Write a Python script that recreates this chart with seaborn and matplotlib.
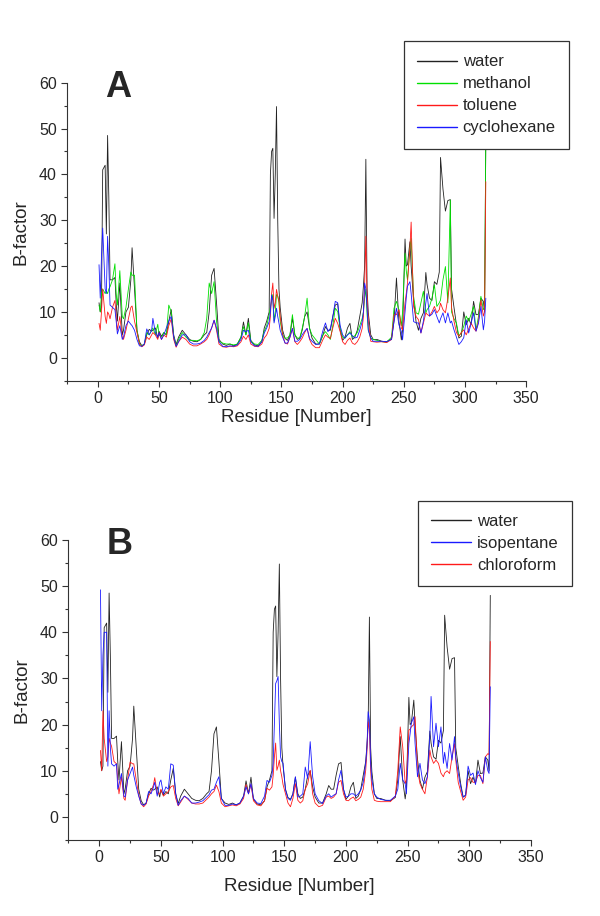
import matplotlib
matplotlib.use("Agg")
import matplotlib.pyplot as plt
from matplotlib.ticker import MultipleLocator
import seaborn as sns

# Residue numbers (x values shared by all series)
residue = [
    1, 2, 3, 4, 6, 7, 8, 9, 10, 12, 14, 15, 16, 18, 20, 21, 23, 25, 27, 28, 30, 32, 34, 36,
    38, 40, 42, 44, 45, 47, 49, 50, 52, 54, 56, 58, 60, 62, 64, 66, 69, 72, 75, 78, 81, 84, 87,
    89, 91, 93, 95, 97, 99, 102, 105, 108, 111, 114, 117, 119, 121, 123, 125, 128, 131, 134,
    136, 138, 140, 141, 142, 143, 144, 145, 146, 147, 148, 149, 151, 153, 155, 157, 159, 161,
    163, 165, 167, 169, 171, 173, 175, 178,
    181, 184, 186, 188, 190, 192, 194, 196, 198, 200, 202, 204, 206, 208, 210, 212, 214, 216,
    217, 218, 219, 220, 221, 223, 225, 228, 232, 236, 240,
    242, 244, 246, 248, 249, 251, 252, 253, 255, 256, 258, 260, 262, 264, 266, 268, 269, 271,
    273, 275, 277, 279, 280, 282, 284, 286, 288, 289, 291, 293, 295, 297, 299, 301, 303, 305,
    307, 309, 311, 313, 315, 316, 317,
]

# B-factors per solvent
water = [
    12, 10, 11, 41, 42, 27, 48.5, 35, 17, 17, 17.5, 12, 8, 16.3, 5, 6, 10, 11, 17, 24, 15, 6, 3.5, 2.6,
    3, 5, 6.2, 5.8, 6, 6.5, 4.3, 5.8, 4.7, 5.5, 5, 8, 10.5, 5, 2.9, 4.5, 6, 5, 4, 3.6, 3.5, 4, 5,
    5.5, 10, 18, 19.5, 12, 4, 3, 2.7, 3, 2.6, 3, 4.5, 7.8, 5, 8.6, 3.8, 2.8, 2.6, 3.5,
    6.5, 8, 10, 40, 45, 45.7, 30.4, 40, 54.8, 30, 15, 11, 6, 4.2, 3.8, 5, 8.6, 5,
    4, 4.3, 6, 9, 10, 6.5, 4.3, 3,
    3, 5, 6.8, 6, 6, 9, 11.5, 11.8, 6, 3.8, 4.5, 6.5, 7.5, 4, 4.5, 6, 9, 12,
    15.6, 20, 43.3, 15, 9.8, 5, 4, 4, 3.6, 3.5, 4.2,
    8, 17.4, 8, 3.9, 6, 25.9, 20, 20.3, 25.3, 20, 12.5, 7.9, 6, 8.6, 9.8, 18.6, 16, 13,
    12.5, 16.6, 16, 18.7, 43.7, 36.8, 32, 34.3, 34.5, 15, 11, 7.2, 4.3, 4.7, 10, 7.2, 8.6, 7.2,
    12.3, 9.4, 9.5, 13, 12.3, 10, 48,
]
methanol = [
    11.5, 10, 14, 15, 14, 14.5, 14, 15, 15.5, 17, 20.5, 14, 11.5, 19, 9, 8.5, 11, 15, 18.7, 18, 18, 6, 3, 2.6,
    3, 5.5, 5, 6, 6.5, 5, 7.3, 5, 4.5, 5.5, 5, 11.5, 10, 4.5, 2.6, 4, 5.5, 4.5, 3.8, 3.8, 3.7, 4, 5.5,
    8.6, 16.3, 14, 16.6, 8, 3.6, 3.2, 3, 3, 2.8, 3, 4.5, 6.8, 5, 7.6, 3.6, 3, 2.9, 3.8,
    5.8, 7, 9.4, 11, 12.5, 13.8, 8, 10, 13.8, 13.4, 12, 8, 5, 4.3, 4.3, 5, 9.4, 5,
    4.3, 4.3, 6.4, 9, 13, 6.4, 5, 4,
    3, 5, 5.7, 5, 4, 7, 10.8, 10.1, 6.4, 4.5, 4.3, 5, 5.7, 4.5, 4.8, 5.5, 7, 8.6,
    10, 13, 15, 9.4, 6, 4.3, 4, 3.8, 3.5, 3.4, 4.5,
    10.8, 12.3, 10.5, 7, 10, 22.8, 19, 17, 24, 26, 13.4, 9.8, 9.5, 12, 14.5, 9.8, 10.5, 11.2,
    13, 15.9, 11.2, 12, 12.6, 17, 19.9, 12, 34.4, 10, 8.5, 7.6, 4.7, 5.5, 6.9, 9.1, 8, 9.5,
    11.2, 6.1, 9, 13.4, 10.5, 11, 48,
]
toluene = [
    7.5, 6, 10, 15, 9, 7.5, 10, 9.5, 8.5, 11, 12.5, 9, 6, 9, 4.5, 4, 6, 8.5, 11, 11.3, 8, 5.5, 3, 2.4,
    2.8, 4.5, 4, 5, 5.5, 5, 4, 5.5, 4, 5, 4.5, 7, 8.5, 4, 2.3, 3.5, 4.5, 4, 3, 2.6, 2.6, 3, 3.5,
    4, 5, 6.5, 8.2, 6, 3, 2.4, 2.3, 2.5, 2.4, 2.6, 3.5, 4.7, 4, 5, 3, 2.5, 2.4, 3,
    4.3, 5, 6.4, 9, 14, 16.3, 10.8, 12, 14.9, 13.5, 12.4, 9, 5, 3.2, 3, 4.5, 6.4, 3.5,
    2.9, 3.5, 4.3, 5.5, 6.4, 4, 2.9, 2.2,
    2.2, 4, 5, 4.5, 4.2, 6.5, 8.6, 7.5, 5.7, 3.5, 2.9, 3.8, 4.3, 3.2, 2.9, 3.5, 4.5, 6.4,
    9, 16, 26.5, 13, 8, 3.6, 3.5, 3.4, 3.5, 3.3, 4,
    9.4, 9.4, 10.5, 6.5, 6.1, 12, 14, 16.3, 24, 29.6, 11.2, 9, 8.3, 5.4, 7.5, 9.8, 9.5, 9.1,
    10, 11.2, 9.8, 10.5, 11.9, 10.5, 9.8, 13, 17.4, 11, 8, 5.5, 4.7, 5.5, 6.1, 5, 6.3, 7.6,
    6.5, 5.8, 8, 12.6, 9.1, 10, 38.4,
]
cyclohexane = [
    20.3, 13, 22, 28.3, 15, 14, 26.5, 20, 11.5, 11, 10.5, 8, 5.2, 7, 4, 4.5, 7, 8, 7.3, 7, 6, 4, 2.6, 2.5,
    3, 6.3, 5, 6, 8.6, 5.5, 4.5, 5.5, 4, 5, 6.5, 8, 9, 4.5, 2.5, 3.5, 5, 5, 3.5, 3, 3, 3.2, 3.8,
    4.5, 5.5, 6.5, 8.2, 6.5, 3.5, 2.5, 2.4, 2.6, 2.5, 2.8, 4, 6, 5.7, 6, 3.5, 2.6, 2.5, 3.5,
    5.4, 6.5, 7.9, 10, 13.7, 12.5, 7.6, 9, 10.8, 9, 7.6, 6, 4.5, 3.2, 3.2, 4.5, 6.4, 3.6,
    3.6, 4, 5, 5.8, 6.4, 4.2, 3.6, 2.9,
    3, 6, 7.6, 5.7, 6.4, 9, 12.3, 12, 7, 5, 4.3, 5, 5.4, 4.8, 4.3, 4.5, 6, 7.9,
    10, 16.3, 15, 10.8, 6, 4.3, 3.6, 3.6, 3.6, 3.5, 4,
    7.9, 10.8, 7.2, 5.7, 3.9, 10, 13, 15.6, 16.6, 14, 7.9, 7.6, 7.6, 5.4, 8, 12, 14, 9.1,
    9.5, 10.5, 9, 7.6, 8.5, 9.8, 7.6, 9.8, 7.6, 8, 6.1, 4.5, 2.9, 3.5, 4.4, 8.3, 5.4, 7.5,
    9.8, 5.8, 7.5, 11.2, 6.1, 8, 13,
]
isopentane = [
    49.2, 23, 35, 40, 40, 11, 23, 15, 11.5, 11, 11.5, 6, 7, 9.4, 4.5, 4.3, 8, 9.4, 10.8, 9, 6.5, 4.5, 2.8, 2.5,
    3, 5.5, 5, 6.5, 7.5, 4.5, 7.5, 8, 5, 6.5, 6, 11.5, 11.2, 5, 2.5, 3.5, 4.5, 4, 3, 3, 3.2, 3.5, 4.3,
    4.8, 5.8, 6, 7.5, 8.7, 4, 2.5, 2.5, 2.8, 2.6, 3, 4.5, 6.5, 5, 7.2, 4, 3, 2.9, 4.5,
    7.9, 7.5, 9, 11.6, 20, 28.9, 29.5, 30.4, 20.3, 13, 12, 11.6, 5.8, 4, 3.6, 5, 8.7, 4.3,
    4.5, 5, 10.8, 8.3, 16.3, 8.7, 5, 3.5,
    2.9, 4.5, 5, 4.3, 4.7, 5, 8, 10.1, 6, 4.3, 4.5, 5, 5, 4.5, 5, 5.8, 7.5, 11.6,
    15, 22.8, 21, 11.6, 8, 5, 4.3, 3.8, 3.6, 3.6, 4.5,
    6, 11.6, 8, 7.2, 5, 15.9, 18, 20.3, 21.7, 16, 8.7, 11.6, 8, 7.2, 8.7, 17.4, 26.1, 15.2,
    20.3, 15.2, 19.5, 11.6, 14, 10.5, 15.9, 12.3, 17.4, 13, 9.5, 6.5, 4.3, 4.7, 11, 9, 9.5, 7,
    10, 8.5, 7.5, 13, 10, 9.4, 28.2,
]
chloroform = [
    14.4, 10, 23, 17, 12, 13, 17, 16, 15.3, 12, 11.5, 8, 5, 8.7, 4, 3.6, 8, 11.9, 11.5, 11.5, 8, 4.7, 2.8, 2.2,
    2.8, 4.5, 5.5, 7, 8.5, 5, 5, 6, 4.5, 5, 5.5, 6.5, 6.8, 4, 2.4, 3.2, 4.5, 3.8, 3, 2.8, 2.8, 3, 3.8,
    4.3, 5, 5.5, 6.9, 5.5, 3, 2.2, 2.4, 2.6, 2.4, 2.8, 4, 7, 5, 7, 3.5, 2.6, 2.4, 3.5,
    6.2, 5.8, 6.5, 9, 13, 16, 10.1, 11, 12.3, 10, 8.7, 7, 5, 3, 2.2, 4, 7.2, 3.6,
    3, 3.5, 6, 7.2, 10.1, 5, 3, 2.2,
    2.5, 4.3, 4.5, 4, 4.3, 5, 7.5, 7.9, 5, 3.6, 3.5, 4, 4.3, 3.5, 3.8, 4.3, 6, 10.1,
    14, 20.6, 19, 10.1, 6, 3.6, 3.4, 3.3, 3.3, 3.3, 4.5,
    10, 19.5, 15.2, 7.2, 8, 18.8, 19, 19.5, 20, 21.7, 10.1, 7.2, 6, 5, 8.7, 14.5, 13, 11.6,
    12.3, 11.6, 9.5, 8.7, 9.5, 10, 9.4, 13, 15.9, 12.3, 7.5, 5.5, 3.6, 4.3, 8, 8.5, 7.5, 7.5,
    9, 9, 7.2, 13, 13.7, 13.5, 38,
]

panel_a = [("water", water, "#222222"), ("methanol", methanol, "#00e000"),
           ("toluene", toluene, "#ff1a1a"), ("cyclohexane", cyclohexane, "#1a1aff")]
panel_b = [("water", water, "#222222"), ("chloroform", chloroform, "#ff1a1a"),
           ("isopentane", isopentane, "#1a1aff")]
legend_b_order = ["water", "isopentane", "chloroform"]

sns.set_theme(style="ticks")
plt.rcParams["font.family"] = ["Liberation Sans", "DejaVu Sans"]
axis_grey = "#333333"


def _draw_panel(ax, series, letter, legend_anchor, legend_order, xlabel_pad):
    """Draws one B-factor profile panel with its legend"""
    for name, values, color in series:
        sns.lineplot(x=residue, y=values, color=color, lw=0.6, label=name,
                     estimator=None, sort=False, ax=ax)

    ax.set_xlim(-25, 350)
    ax.set_ylim(-5, 60)
    ax.set_xticks(range(0, 351, 50))
    ax.set_yticks(range(0, 61, 10))
    ax.xaxis.set_minor_locator(MultipleLocator(25))
    ax.yaxis.set_minor_locator(MultipleLocator(5))
    ax.tick_params(which="major", direction="out", length=4.5, width=0.8,
                   color=axis_grey, labelsize=11.5, pad=3)
    ax.tick_params(which="minor", direction="out", length=2.5, width=0.8, color=axis_grey)
    sns.despine(ax=ax)
    for side in ["left", "bottom"]:
        ax.spines[side].set_color(axis_grey)
        ax.spines[side].set_linewidth(0.8)

    ax.set_xlabel("Residue [Number]", fontsize=13.5, labelpad=xlabel_pad)
    ax.set_ylabel("B-factor", fontsize=13.5, labelpad=7)

    handles, labels = ax.get_legend_handles_labels()
    lookup = dict(zip(labels, handles))
    leg = ax.legend([lookup[k] for k in legend_order], legend_order,
                    loc="upper right", bbox_to_anchor=legend_anchor,
                    bbox_transform=ax.figure.transFigure, borderaxespad=0,
                    fontsize=12, frameon=True, fancybox=False, framealpha=1,
                    handlelength=2.4, handletextpad=0.35, labelspacing=0.42,
                    borderpad=0.8)
    leg.get_frame().set_edgecolor(axis_grey)
    leg.get_frame().set_linewidth(0.9)
    # slightly heavier legend samples so the colours read at this size
    for line in leg.get_lines():
        line.set_linewidth(1.0)

    pos = ax.get_position()
    ax.figure.text(pos.x0 + 38 / 600, pos.y1 - 14 / 916, letter, fontsize=26,
                   fontweight="bold", ha="left", va="baseline")


fig = plt.figure(figsize=(6.0, 9.16), dpi=100)
ax_a = fig.add_axes([0.112, 0.5844, 0.765, 0.3253])
ax_b = fig.add_axes([0.114, 0.0830, 0.771, 0.3275])

_draw_panel(ax_a, panel_a, "A", (569 / 600, 1 - 41 / 916),
            ["water", "methanol", "toluene", "cyclohexane"], 2)
_draw_panel(ax_b, panel_b, "B", (572 / 600, 1 - 500.7 / 916), legend_b_order, 9)

fig.savefig("out.png", dpi=100)
plt.close(fig)
